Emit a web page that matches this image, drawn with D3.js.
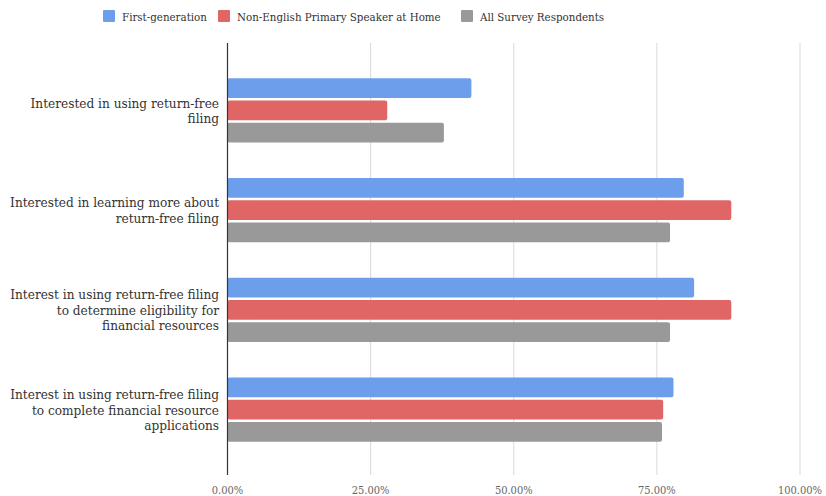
<!DOCTYPE html>
<html>
<head>
<meta charset="utf-8">
<script src="https://cdn.jsdelivr.net/npm/d3@7"></script>
<style>
  html, body { margin: 0; padding: 0; background: #fff; }
  svg { display: block; }
</style>
</head>
<body>
<svg id="chart" width="826" height="496"></svg>
<script>
// Survey questions (each label is split into its display lines)
const categories = [
  ["Interested in using return-free", "filing"],
  ["Interested in learning more about", "return-free filing"],
  ["Interest in using return-free filing", "to determine eligibility for", "financial resources"],
  ["Interest in using return-free filing", "to complete financial resource", "applications"]
];

const seriesNames = ["First-generation", "Non-English Primary Speaker at Home", "All Survey Respondents"];
const seriesColors = ["#6d9eeb", "#e06666", "#999999"];

// Share of respondents (%) per question, one array per group
const firstGeneration = [42.6, 79.7, 81.5, 77.9];
const nonEnglishSpeaker = [27.9, 88.0, 88.0, 76.1];
const allRespondents = [37.8, 77.3, 77.3, 75.9];

const tickValues = [0, 25, 50, 75, 100];
const tickLabels = ["0.00%", "25.00%", "50.00%", "75.00%", "100.00%"];

const seriesValues = [firstGeneration, nonEnglishSpeaker, allRespondents];
const catKeys = categories.map((c, i) => "q" + i);
const FONT = "'DejaVu Serif Condensed', 'DejaVu Serif', serif";

const svg = d3.select("#chart").attr("font-family", FONT);

// pick a font size so a given string spans the wanted width
function fitSize(str, targetW, maxSize) {
  const t = svg.append("text").attr("font-size", 20).text(str);
  const w = t.node().getComputedTextLength();
  t.remove();
  return Math.min(maxSize, 20 * targetW / w);
}
const labelSize = fitSize("Interest in using return-free filing", 209, 15);
const legendSize = fitSize("Non-English Primary Speaker at Home", 204, 15);

const x = d3.scaleLinear().domain([0, 100]).range([227.5, 800]);
const y0 = d3.scaleBand().domain(catKeys).range([60.5, 459.5])
  .paddingInner(0.358).paddingOuter(0.179);
const y1 = d3.scaleBand().domain(d3.range(seriesNames.length))
  .range([0, y0.bandwidth()]).paddingInner(0.12).paddingOuter(0);

const plotTop = 43, plotBottom = 475;

// vertical gridlines
svg.append("g").selectAll("line")
  .data(tickValues.slice(1))
  .join("line")
  .attr("x1", d => x(d)).attr("x2", d => x(d))
  .attr("y1", plotTop).attr("y2", plotBottom)
  .attr("stroke", "#d9d9d9").attr("stroke-width", 1);

// bars
const groups = svg.append("g").selectAll("g")
  .data(catKeys)
  .join("g")
  .attr("transform", d => `translate(0,${y0(d)})`);

groups.selectAll("rect")
  .data((d, i) => seriesValues.map((s, j) => ({ j, v: s[i] })))
  .join("rect")
  .attr("x", x(0))
  .attr("y", d => y1(d.j))
  .attr("width", d => x(d.v) - x(0))
  .attr("height", y1.bandwidth())
  .attr("rx", 2).attr("ry", 2)
  .attr("fill", d => seriesColors[d.j]);

// zero axis line
svg.append("line")
  .attr("x1", x(0)).attr("x2", x(0))
  .attr("y1", plotTop).attr("y2", plotBottom)
  .attr("stroke", "#333").attr("stroke-width", 1.2);

// x tick labels
svg.append("g").selectAll("text")
  .data(tickValues)
  .join("text")
  .attr("x", d => x(d))
  .attr("y", 494)
  .attr("text-anchor", "middle")
  .attr("font-size", 11)
  .attr("fill", "#666")
  .text((d, i) => tickLabels[i]);

// category labels
const lineH = 15.5;
svg.append("g").selectAll("text")
  .data(categories.map((lines, i) => ({ lines, key: catKeys[i] })))
  .join("text")
  .attr("text-anchor", "end")
  .attr("font-size", labelSize)
  .attr("fill", "#333")
  .each(function (d) {
    const cy = y0(d.key) + y0.bandwidth() / 2;
    const n = d.lines.length;
    d3.select(this).selectAll("tspan")
      .data(d.lines)
      .join("tspan")
      .attr("x", 219)
      .attr("y", (l, k) => cy + (k - (n - 1) / 2) * lineH + 5)
      .text(l => l);
  });

// legend: swatch + label per series
const legendX = [103, 218, 461];
const items = svg.append("g").selectAll("g")
  .data(seriesNames)
  .join("g")
  .attr("transform", (d, i) => `translate(${legendX[i]},0)`);
items.append("rect")
  .attr("width", 12).attr("height", 12).attr("rx", 1).attr("y", 10)
  .attr("fill", (d, i) => seriesColors[i]);
items.append("text")
  .attr("x", 19).attr("y", 21)
  .attr("font-size", legendSize)
  .attr("fill", "#333")
  .text(d => d);
</script>
</body>
</html>
